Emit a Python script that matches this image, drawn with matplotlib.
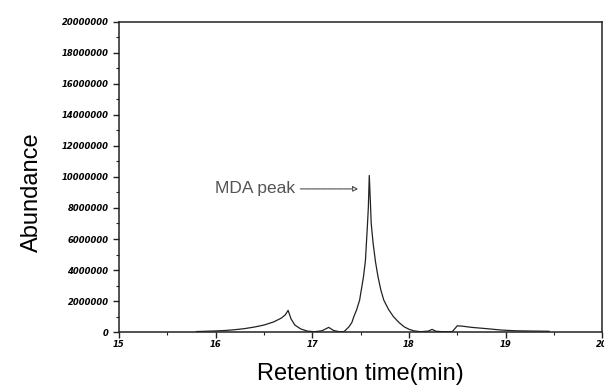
import numpy as np
import matplotlib
matplotlib.use('Agg')
import matplotlib.pyplot as plt
from matplotlib.ticker import MultipleLocator, FuncFormatter

# retention time (min) and abundance (millions)
rt = [15.80, 15.90, 16.00, 16.10, 16.20, 16.30, 16.40, 16.50, 16.60, 16.68,
      16.72, 16.75, 16.78, 16.82, 16.88, 16.95, 17.02, 17.10, 17.17, 17.22,
      17.28, 17.33, 17.38, 17.41, 17.43, 17.46, 17.49, 17.53, 17.55, 17.56,
      17.57, 17.58, 17.59, 17.60, 17.61, 17.63, 17.655, 17.68, 17.71, 17.74,
      17.79, 17.84, 17.90, 17.95, 18.00, 18.05, 18.12, 18.20, 18.24, 18.28,
      18.35, 18.45, 18.50, 18.55, 18.65, 18.80, 18.95, 19.10, 19.30, 19.45]
abund_m = [0.03, 0.05, 0.07, 0.10, 0.15, 0.22, 0.32, 0.45, 0.65, 0.90,
           1.10, 1.40, 0.85, 0.45, 0.20, 0.06, 0.02, 0.08, 0.30, 0.10,
           0.02, 0.03, 0.34, 0.62, 0.99, 1.45, 2.06, 3.57, 4.60, 5.70,
           6.80, 8.00, 10.10, 8.60, 7.00, 5.70, 4.50, 3.57, 2.70, 2.06,
           1.45, 0.99, 0.60, 0.34, 0.18, 0.08, 0.02, 0.06, 0.17, 0.05,
           0.02, 0.03, 0.40, 0.38, 0.30, 0.22, 0.13, 0.08, 0.06, 0.05]

peak_label = 'MDA peak'
peak_tip = (17.477, 9.23e6)
label_pos = (15.99, 9.23e6)

plt.rcParams['font.family'] = ['Liberation Sans', 'DejaVu Sans']

fig = plt.figure(figsize=(6.04, 3.92), dpi=100)
ax = fig.add_axes([0.197, 0.153, 0.80, 0.791])

y = np.array(abund_m) * 1e6
ax.plot(rt, y, color='#222222', lw=0.9)

ax.annotate(peak_label, xy=peak_tip, xytext=label_pos,
            ha='left', va='center', fontsize=12.5, color='#555555',
            arrowprops=dict(arrowstyle='-|>', color='#555555', lw=0.8,
                            ls=(0, (1, 0.6)), fc='white',
                            relpos=(1, 0.5), shrinkA=2, shrinkB=0,
                            mutation_scale=8))

ax.set_xlim(15, 20)
ax.set_ylim(0, 20000000)
ax.xaxis.set_major_locator(MultipleLocator(1))
ax.xaxis.set_minor_locator(MultipleLocator(0.5))
ax.yaxis.set_major_locator(MultipleLocator(2000000))
ax.yaxis.set_minor_locator(MultipleLocator(1000000))
ax.yaxis.set_major_formatter(FuncFormatter(lambda v, p: '%d' % v))
ax.xaxis.set_major_formatter(FuncFormatter(lambda v, p: '%d' % v))

for t in ax.get_xticklabels() + ax.get_yticklabels():
    t.set_family('DejaVu Sans')
    t.set_fontweight('bold')
    t.set_fontstyle('italic')
ax.tick_params(which='major', length=4.5, width=1, labelsize=6, pad=3,
               color='#222222')
ax.tick_params(axis='x', which='major', pad=1.5)
ax.tick_params(which='minor', length=2.5, width=0.8, color='#222222')

for s in ax.spines.values():
    s.set_linewidth(1.1)
    s.set_color('#222222')

ax.set_xlabel('Retention time(min)', fontsize=17, labelpad=10)
ax.set_ylabel('Abundance', fontsize=17, labelpad=8)
ax.yaxis.set_label_coords(-0.158, 0.45)

fig.savefig('out.png', dpi=100)
